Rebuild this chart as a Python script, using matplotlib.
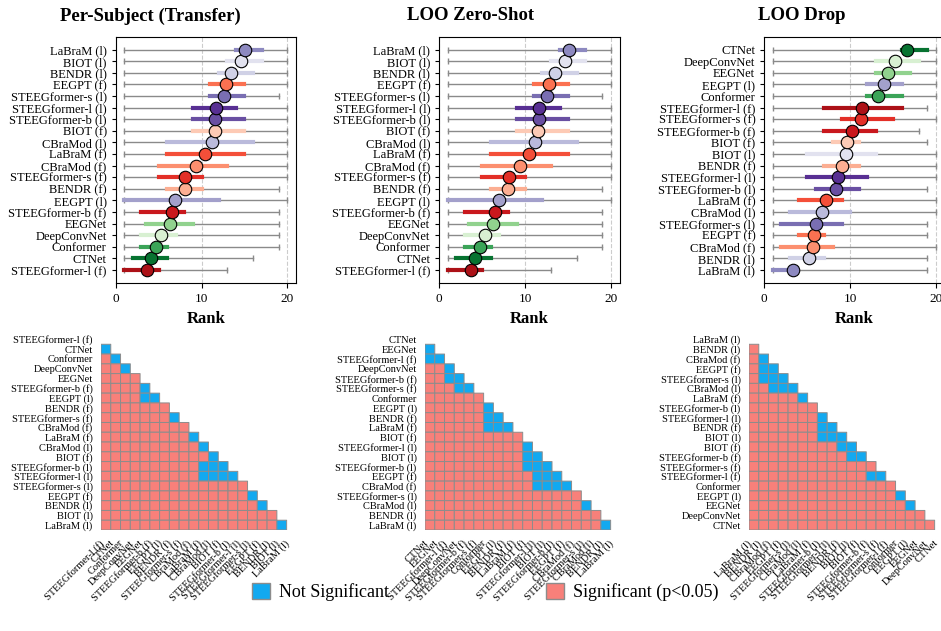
import numpy as np
import matplotlib.pyplot as plt
from matplotlib.colors import ListedColormap
from matplotlib.patches import Patch

plt.rcParams['font.family'] = 'serif'
plt.rcParams['font.serif'] = ['Liberation Serif', 'DejaVu Serif']

# ------------------------------------------------------------
# Rank summaries (ordered from lowest to highest mean rank)
# ------------------------------------------------------------
transfer_models = ['STEEGformer-l (f)', 'CTNet', 'Conformer', 'DeepConvNet', 'EEGNet',
                   'STEEGformer-b (f)', 'EEGPT (l)', 'BENDR (f)', 'STEEGformer-s (f)',
                   'CBraMod (f)', 'LaBraM (f)', 'CBraMod (l)', 'BIOT (f)',
                   'STEEGformer-b (l)', 'STEEGformer-l (l)', 'STEEGformer-s (l)',
                   'EEGPT (f)', 'BENDR (l)', 'BIOT (l)', 'LaBraM (l)']
transfer_mean = [3.7, 4.1, 4.7, 5.3, 6.3, 6.5, 6.9, 8.05, 8.1, 9.4,
                 10.4, 11.2, 11.55, 11.6, 11.65, 12.6, 12.8, 13.45, 14.6, 15.05]
transfer_q1 = [1, 2, 3, 3, 3.5, 3, 1, 6, 5, 5, 6, 6, 9, 9, 9, 11, 11, 12, 13, 14]
transfer_q3 = [5, 6, 6, 7, 9, 8, 12, 10, 10, 13, 15, 16, 15, 15, 14, 15, 15, 16, 17, 17]
transfer_min = [1] * 20
transfer_max = [13, 16, 19, 19, 19, 19, 20, 19, 20, 20, 20, 20, 20, 20, 20, 19, 20, 20, 20, 20]

# zero-shot panel shows the same rank summary
zeroshot_models = transfer_models
zeroshot_mean = transfer_mean
zeroshot_q1 = transfer_q1
zeroshot_q3 = transfer_q3
zeroshot_min = transfer_min
zeroshot_max = transfer_max

drop_models = ['LaBraM (l)', 'BENDR (l)', 'CBraMod (f)', 'EEGPT (f)', 'STEEGformer-s (l)',
               'CBraMod (l)', 'LaBraM (f)', 'STEEGformer-b (l)', 'STEEGformer-l (l)',
               'BENDR (f)', 'BIOT (l)', 'BIOT (f)', 'STEEGformer-b (f)', 'STEEGformer-s (f)',
               'STEEGformer-l (f)', 'Conformer', 'EEGPT (l)', 'EEGNet', 'DeepConvNet', 'CTNet']
drop_mean = [3.3, 5.2, 5.65, 5.8, 6.0, 6.7, 7.2, 8.35, 8.55, 9.0,
             9.5, 9.6, 10.2, 11.25, 11.4, 13.2, 13.9, 14.4, 15.2, 16.6]
drop_q1 = [1, 3, 2, 4, 2, 3, 4, 6, 5, 7, 5, 8, 7, 9, 7, 12, 12, 13, 13, 16]
drop_q3 = [3, 7, 8, 7, 9, 10, 9, 11, 12, 11, 13, 11, 13, 15, 16, 16, 16, 17, 18, 19]
drop_min = [1] * 20
drop_max = [19, 19, 20, 19, 19, 20, 20, 19, 20, 20, 20, 19, 18, 20, 19, 20, 20, 20, 20, 20]

# ------------------------------------------------------------
# Pairwise tests: order of the matrix and non-significant pairs (row, col)
# ------------------------------------------------------------
transfer_sig_order = transfer_models
transfer_ns = [(1, 0), (2, 1), (3, 2), (5, 4), (6, 4), (6, 5), (8, 7), (10, 9), (11, 10),
               (12, 11), (13, 10), (13, 11), (13, 12), (14, 10), (14, 11), (14, 12),
               (14, 13), (16, 15), (17, 16), (19, 18)]

zeroshot_sig_order = ['CTNet', 'EEGNet', 'STEEGformer-l (f)', 'DeepConvNet', 'STEEGformer-b (f)',
                      'STEEGformer-s (f)', 'Conformer', 'EEGPT (l)', 'BENDR (f)', 'LaBraM (f)',
                      'BIOT (f)', 'STEEGformer-l (l)', 'BIOT (l)', 'STEEGformer-b (l)',
                      'EEGPT (f)', 'CBraMod (f)', 'STEEGformer-s (l)', 'CBraMod (l)',
                      'BENDR (l)', 'LaBraM (l)']
zeroshot_ns = [(1, 0), (2, 0), (2, 1), (3, 2), (4, 2), (4, 3), (5, 3), (5, 4), (7, 6),
               (8, 6), (8, 7), (9, 6), (9, 7), (9, 8), (11, 10), (12, 10), (12, 11),
               (13, 10), (13, 11), (13, 12), (14, 11), (14, 12), (14, 13), (15, 11),
               (15, 12), (15, 13), (15, 14), (17, 16), (19, 18)]

drop_sig_order = drop_models
drop_ns = [(2, 1), (3, 1), (3, 2), (4, 1), (4, 2), (4, 3), (5, 2), (5, 3), (5, 4), (6, 5),
           (8, 7), (9, 7), (9, 8), (10, 7), (10, 8), (10, 9), (11, 9), (11, 10),
           (12, 10), (12, 11), (14, 12), (14, 13), (16, 15), (17, 16)]

# ------------------------------------------------------------
# Colours: greens for baselines, reds for fine-tuned, purples for linear probe
# ------------------------------------------------------------
colors = {}
for name, v in zip(['CTNet', 'Conformer', 'EEGNet', 'DeepConvNet'], [0.85, 0.65, 0.42, 0.18]):
    colors[name] = plt.cm.Greens(v)
fm_order = ['STEEGformer-l', 'STEEGformer-b', 'STEEGformer-s', 'LaBraM', 'EEGPT',
            'CBraMod', 'BENDR', 'BIOT']
for name, v in zip(fm_order, np.linspace(0.85, 0.2, 8)):
    colors[name + ' (f)'] = plt.cm.Reds(v)
    colors[name + ' (l)'] = plt.cm.Purples(v)

BLUE = '#12a9f0'
SALMON = '#f8807a'


def rank_panel(ax, models, mean, q1, q3, lo, hi):
    for i, m in enumerate(models):
        c = colors[m]
        ax.plot([lo[i], hi[i]], [i, i], color='#8a8a8a', lw=1.0, zorder=1)
        ax.plot([lo[i], hi[i]], [i, i], ls='none', marker='|', ms=4, mew=1.0,
                color='#8a8a8a', zorder=1)
        ax.plot([q1[i], q3[i]], [i, i], color=c, lw=3, zorder=2)
        ax.plot(mean[i], i, 'o', ms=9, mfc=c, mec='black', mew=0.8, zorder=3)
    ax.set_yticks(range(len(models)))
    ax.set_yticklabels(models, fontsize=9)
    ax.set_xlim(0, 21)
    ax.set_ylim(-1.15, len(models) + 0.07)
    ax.set_xticks([0, 10, 20])
    ax.tick_params(axis='x', labelsize=9.5)
    ax.tick_params(axis='y', length=3)
    ax.grid(axis='x', ls='--', color='#cccccc', lw=0.8)
    ax.set_axisbelow(True)
    ax.set_xlabel('Rank', fontsize=12, fontweight='bold')


def sig_panel(ax, order, ns_pairs):
    n = len(order)
    mat = np.ones((n, n))
    for i, j in ns_pairs:
        mat[i, j] = 0
    # keep only the strictly lower triangle
    mask = np.triu(np.ones((n, n), dtype=bool))
    data = np.ma.masked_array(mat, mask)
    ax.pcolor(np.arange(n + 1), np.arange(n + 1), data,
              cmap=ListedColormap([BLUE, SALMON]), vmin=0, vmax=1,
              edgecolors='#8c8c8c', linewidth=0.7)
    ax.set_xlim(0, n)
    ax.set_ylim(n, 0)
    ax.set_xticks(np.arange(n) + 0.5)
    ax.set_xticklabels(order, rotation=45, ha='right', fontsize=7.5)
    ax.set_yticks(np.arange(n) + 0.5)
    ax.set_yticklabels(order, fontsize=7.5)
    ax.tick_params(length=0, pad=6)
    for s in ax.spines.values():
        s.set_visible(False)


fig = plt.figure(figsize=(9.41, 6.31), dpi=100)

top_lefts = [115.7, 439.3, 764.3]
bot_lefts = [101, 425, 749]
W, H = 941, 631

panels = [
    ('Per-Subject (Transfer)', 150, transfer_models, transfer_mean, transfer_q1, transfer_q3,
     transfer_min, transfer_max, transfer_sig_order, transfer_ns),
    ('LOO Zero-Shot', 471, zeroshot_models, zeroshot_mean, zeroshot_q1, zeroshot_q3,
     zeroshot_min, zeroshot_max, zeroshot_sig_order, zeroshot_ns),
    ('LOO Drop', 802, drop_models, drop_mean, drop_q1, drop_q3,
     drop_min, drop_max, drop_sig_order, drop_ns),
]

for k, (title, tx, models, mean, q1, q3, lo, hi, order, ns) in enumerate(panels):
    ax = fig.add_axes([top_lefts[k] / W, 1 - 283.3 / H, 180.3 / W, 246 / H])
    rank_panel(ax, models, mean, q1, q3, lo, hi)
    fig.text(tx / W, 1 - 16 / H, title, ha='center', va='center',
             fontsize=13.5, fontweight='bold')

    axh = fig.add_axes([bot_lefts[k] / W, 1 - 530 / H, 195.4 / W, 195.5 / H])
    sig_panel(axh, order, ns)

handles = [Patch(facecolor=BLUE, edgecolor='#8c8c8c', label='Not Significant'),
           Patch(facecolor=SALMON, edgecolor='#8c8c8c', label='Significant (p<0.05)')]
fig.legend(handles=handles, loc='center', bbox_to_anchor=(485 / W, 1 - 592 / H), ncol=2,
           frameon=False, fontsize=13, handlelength=1.0, handleheight=1.0,
           handletextpad=0.5, columnspacing=8.7)

plt.savefig('out.png', dpi=100)
